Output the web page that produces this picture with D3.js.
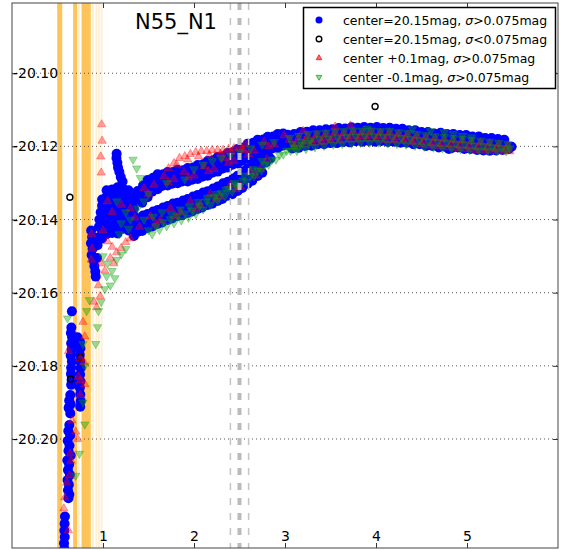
<!DOCTYPE html>
<html><head><meta charset="utf-8">
<script src="https://cdn.jsdelivr.net/npm/d3@7"></script>
<style>body{margin:0;background:#fff}svg{display:block}text{font-family:"DejaVu Sans",sans-serif}</style>
</head><body><svg id="c" width="566" height="550"></svg>
<script>
// ---------------- data ----------------
const title = "N55_N1";
const xTicks = [1, 2, 3, 4, 5];
const yTicks = [-20.10, -20.12, -20.14, -20.16, -20.18, -20.20];
const xDomain = [0, 6];
const yDomain = [-20.2298, -20.0808];
const legendLabels = [
  ["center=20.15mag, ", ">0.075mag"],
  ["center=20.15mag, ", "<0.075mag"],
  ["center +0.1mag, ", ">0.075mag"],
  ["center -0.1mag, ", ">0.075mag"]
];
const strongSpans = [[0.497,0.552],[0.672,0.716],[0.764,0.866]];
const faintSpans = [[0.724,0.745],[0.879,0.899],[0.918,0.935],[0.946,0.965],[0.976,0.995]];
const guideMain = [2.5];
const guideSide = [2.4, 2.6];

// center=20.15mag, sigma>0.075mag
const blueObs = [
 [0.658,-20.1651],
 [0.652,-20.1695],[0.647,-20.1710],[0.660,-20.1722],[0.650,-20.1738],[0.720,-20.1722],[0.725,-20.1738],[0.655,-20.1755],[0.645,-20.1772],[0.658,-20.1788],[0.650,-20.1805],[0.648,-20.1822],[0.655,-20.1838],[0.650,-20.1852],
 [0.748,-20.1735],[0.752,-20.1752],[0.745,-20.1770],[0.750,-20.1788],[0.755,-20.1806],[0.748,-20.1824],[0.752,-20.1842],[0.746,-20.1860],[0.750,-20.1878],[0.755,-20.1896],[0.750,-20.1912],
 [0.640,-20.1880],[0.628,-20.1895],[0.645,-20.1905],[0.622,-20.1915],[0.640,-20.1930],
 [0.630,-20.1962],[0.618,-20.1978],[0.640,-20.1990],[0.612,-20.2005],[0.632,-20.2018],[0.620,-20.2032],[0.645,-20.2045],[0.608,-20.2058],[0.628,-20.2070],[0.615,-20.2085],[0.636,-20.2098],[0.610,-20.2112],[0.625,-20.2125],[0.615,-20.2140],[0.630,-20.2152],[0.620,-20.2162],
 [0.582,-20.2212],[0.578,-20.2232],[0.575,-20.2250],[0.580,-20.2268],[0.572,-20.2285],[0.576,-20.2300],
 [0.870,-20.1430],[0.880,-20.1448],[0.868,-20.1465],[0.885,-20.1480],[0.875,-20.1497],[0.895,-20.1512],[0.905,-20.1527],[0.915,-20.1542],[0.920,-20.1556],[0.935,-20.1505],[0.940,-20.1470],[0.930,-20.1450],[0.955,-20.1420],[0.960,-20.1400],[0.975,-20.1380],
 [1.150,-20.1220],[1.148,-20.1232],[1.158,-20.1245],[1.165,-20.1258],[1.180,-20.1270],[1.195,-20.1284],[1.215,-20.1296],
 [0.99,-20.1345],[0.99,-20.1362],[0.99,-20.1380],[0.99,-20.1398],[0.99,-20.1416],[0.99,-20.1434],[0.99,-20.1452],
 [1.04,-20.1320],[1.04,-20.1337],[1.04,-20.1354],[1.04,-20.1371],[1.04,-20.1388],[1.04,-20.1405],[1.04,-20.1422],[1.04,-20.1440],
 [1.10,-20.1318],[1.10,-20.1335],[1.10,-20.1352],[1.10,-20.1369],[1.10,-20.1386],[1.10,-20.1403],[1.10,-20.1420],[1.10,-20.1437],
 [1.16,-20.1312],[1.16,-20.1330],[1.16,-20.1348],[1.16,-20.1366],[1.16,-20.1384],[1.16,-20.1402],[1.16,-20.1420],[1.16,-20.1438],
 [1.22,-20.1315],[1.22,-20.1333],[1.22,-20.1351],[1.22,-20.1369],[1.22,-20.1387],[1.22,-20.1405],[1.22,-20.1425],
 [1.28,-20.1320],[1.28,-20.1338],[1.28,-20.1356],[1.28,-20.1374],[1.28,-20.1392],[1.28,-20.1410],[1.28,-20.1430],
 [1.34,-20.1330],[1.34,-20.1350],[1.34,-20.1370],[1.34,-20.1390],[1.34,-20.1410],[1.34,-20.1428],[1.34,-20.1445],
 [1.38,-20.1322],[1.41,-20.1340],[1.43,-20.1354],[1.44,-20.1307],[1.47,-20.1320],[1.49,-20.1339],[1.49,-20.1292],[1.52,-20.1311],[1.54,-20.1324],
 [1.55,-20.1286],[1.58,-20.1298],[1.60,-20.1317],[1.60,-20.1276],[1.63,-20.1295],[1.65,-20.1308],[1.66,-20.1276],[1.69,-20.1288],[1.71,-20.1307],
 [1.71,-20.1270],[1.74,-20.1289],[1.76,-20.1302],[1.77,-20.1270],[1.80,-20.1282],[1.82,-20.1301],[1.82,-20.1264],[1.85,-20.1283],[1.87,-20.1296],
 [1.88,-20.1265],[1.91,-20.1277],[1.93,-20.1296],[1.93,-20.1259],[1.96,-20.1278],[1.98,-20.1291],[1.99,-20.1258],[2.02,-20.1270],[2.04,-20.1289],
 [2.04,-20.1251],[2.07,-20.1270],[2.09,-20.1283],[2.10,-20.1249],[2.13,-20.1261],[2.15,-20.1280],[2.15,-20.1240],[2.18,-20.1259],[2.20,-20.1272],
 [2.21,-20.1238],[2.24,-20.1250],[2.26,-20.1269],[2.26,-20.1229],[2.29,-20.1248],[2.31,-20.1261],[2.32,-20.1227],[2.35,-20.1239],[2.37,-20.1258],
 [2.37,-20.1218],[2.40,-20.1237],[2.42,-20.1250],[2.43,-20.1216],[2.46,-20.1228],[2.48,-20.1247],[2.48,-20.1207],[2.51,-20.1226],[2.53,-20.1239],
 [2.54,-20.1203],[2.57,-20.1215],[2.59,-20.1234],[2.59,-20.1193],[2.62,-20.1212],[2.64,-20.1225],[2.65,-20.1190],[2.68,-20.1202],[2.70,-20.1221],
 [2.70,-20.1182],[2.73,-20.1201],[2.75,-20.1214],[2.76,-20.1181],[2.79,-20.1193],[2.81,-20.1212],[2.81,-20.1174],[2.84,-20.1193],[2.86,-20.1206],
 [2.87,-20.1173],[2.90,-20.1185],[2.92,-20.1204],[2.92,-20.1166],[2.95,-20.1185],[2.97,-20.1198],[2.98,-20.1165],[3.01,-20.1177],[3.03,-20.1196],
 [1.33,-20.1400],[1.36,-20.1419],[1.38,-20.1434],[1.38,-20.1397],[1.41,-20.1411],[1.43,-20.1431],[1.44,-20.1389],[1.47,-20.1408],[1.49,-20.1423],
 [1.49,-20.1385],[1.52,-20.1399],[1.54,-20.1419],[1.55,-20.1378],[1.58,-20.1397],[1.60,-20.1412],[1.60,-20.1374],[1.63,-20.1388],[1.65,-20.1408],
 [1.66,-20.1367],[1.69,-20.1386],[1.71,-20.1401],[1.71,-20.1363],[1.74,-20.1377],[1.76,-20.1397],[1.77,-20.1356],[1.80,-20.1375],[1.82,-20.1390],
 [1.82,-20.1354],[1.85,-20.1368],[1.87,-20.1388],[1.88,-20.1348],[1.91,-20.1367],[1.93,-20.1382],[1.93,-20.1344],[1.96,-20.1358],[1.98,-20.1378],
 [1.99,-20.1337],[2.02,-20.1356],[2.04,-20.1371],[2.04,-20.1333],[2.07,-20.1347],[2.09,-20.1367],[2.10,-20.1326],[2.13,-20.1345],[2.15,-20.1360],
 [2.15,-20.1323],[2.18,-20.1337],[2.20,-20.1357],[2.21,-20.1315],[2.24,-20.1334],[2.26,-20.1349],[2.26,-20.1310],[2.29,-20.1324],[2.31,-20.1344],
 [2.32,-20.1301],[2.35,-20.1320],[2.37,-20.1335],[2.37,-20.1297],[2.40,-20.1311],[2.42,-20.1331],[2.43,-20.1288],[2.46,-20.1307],[2.48,-20.1322],
 [2.48,-20.1280],[2.51,-20.1294],[2.53,-20.1314],[2.54,-20.1268],[2.57,-20.1287],[2.59,-20.1302],[2.59,-20.1260],[2.62,-20.1274],[2.64,-20.1294],
 [2.65,-20.1247],[2.68,-20.1266],[2.70,-20.1281],[2.70,-20.1238],[2.73,-20.1252],[2.75,-20.1272],[2.76,-20.1232],[2.79,-20.1244],[2.81,-20.1222],[2.84,-20.1233],
 [3.03,-20.1168],[3.06,-20.1191],[3.08,-20.1206],[3.10,-20.1166],[3.13,-20.1184],[3.15,-20.1204],[3.17,-20.1161],[3.20,-20.1185],[3.22,-20.1199],
 [3.24,-20.1160],[3.27,-20.1178],[3.29,-20.1198],[3.31,-20.1156],[3.34,-20.1180],[3.36,-20.1194],[3.38,-20.1156],[3.41,-20.1174],[3.43,-20.1194],
 [3.45,-20.1153],[3.48,-20.1177],[3.50,-20.1191],[3.52,-20.1153],[3.55,-20.1171],[3.57,-20.1191],[3.59,-20.1150],[3.62,-20.1174],[3.64,-20.1188],
 [3.66,-20.1151],[3.69,-20.1169],[3.71,-20.1189],[3.73,-20.1148],[3.76,-20.1172],[3.78,-20.1186],[3.80,-20.1149],[3.83,-20.1167],[3.85,-20.1187],
 [3.87,-20.1147],[3.90,-20.1170],[3.92,-20.1185],[3.94,-20.1149],[3.97,-20.1167],[3.99,-20.1187],[4.01,-20.1147],[4.04,-20.1171],[4.06,-20.1185],
 [4.08,-20.1150],[4.11,-20.1168],[4.13,-20.1188],[4.15,-20.1149],[4.18,-20.1173],[4.20,-20.1187],[4.22,-20.1152],[4.25,-20.1170],[4.27,-20.1190],
 [4.29,-20.1152],[4.32,-20.1176],[4.34,-20.1190],[4.36,-20.1156],[4.39,-20.1174],[4.41,-20.1194],[4.43,-20.1156],[4.46,-20.1180],[4.48,-20.1194],
 [4.50,-20.1161],[4.53,-20.1179],[4.55,-20.1199],[4.57,-20.1161],[4.60,-20.1185],[4.62,-20.1199],[4.64,-20.1165],[4.67,-20.1183],[4.69,-20.1203],
 [4.71,-20.1163],[4.74,-20.1186],[4.76,-20.1201],[4.78,-20.1166],[4.81,-20.1185],[4.83,-20.1205],[4.80,-20.1207],[4.85,-20.1166],[4.88,-20.1188],[4.90,-20.1203],
 [4.92,-20.1169],[4.95,-20.1187],[4.97,-20.1207],[4.99,-20.1169],[5.02,-20.1192],[5.04,-20.1207],[5.06,-20.1173],[5.09,-20.1191],[5.11,-20.1210],
 [5.13,-20.1173],[5.16,-20.1196],[5.18,-20.1211],[5.20,-20.1177],[5.23,-20.1195],[5.25,-20.1212],[5.27,-20.1177],[5.30,-20.1198],[5.32,-20.1211],
 [5.34,-20.1180],[5.37,-20.1197],[5.39,-20.1210],[5.41,-20.1182],[5.44,-20.1199],[5.46,-20.1207],[5.49,-20.1201]
];
// center=20.15mag, sigma<0.075mag
const blackObs = [[0.636,-20.1339],[3.99,-20.1091],[0.753,-20.1777],[0.644,-20.1836]];
// center +0.1mag, sigma>0.075mag
const redObs = [
 [1.72,-20.1260],[1.78,-20.1246],[1.84,-20.1232],[1.90,-20.1227],[1.96,-20.1221],[2.02,-20.1216],[2.08,-20.1213],[2.14,-20.1213],[2.20,-20.1210],[2.26,-20.1210],[2.32,-20.1210],[2.38,-20.1207],[2.44,-20.1205],[2.50,-20.1199],[2.56,-20.1194],
 [1.81,-20.1250],[1.93,-20.1236],[2.05,-20.1228],[2.17,-20.1224],[2.29,-20.1220],[2.41,-20.1215],[2.53,-20.1208],
 [1.45,-20.1315],[1.56,-20.1305],[1.67,-20.1282],[1.78,-20.1290],[1.89,-20.1270],[2.00,-20.1280],[2.11,-20.1255],[2.22,-20.1262],[2.33,-20.1232],[2.44,-20.1240],[2.55,-20.1210],[2.66,-20.1212],[2.77,-20.1188],[2.88,-20.1195],[2.99,-20.1170],
 [1.50,-20.1330],[1.72,-20.1298],[1.94,-20.1285],[2.16,-20.1268],[2.38,-20.1245],[2.60,-20.1222],[2.82,-20.1200],
 [1.40,-20.1420],[1.52,-20.1392],[1.63,-20.1402],[1.74,-20.1370],[1.85,-20.1380],[1.96,-20.1350],[2.07,-20.1360],[2.18,-20.1330],[2.29,-20.1338],[2.40,-20.1305],[2.51,-20.1310],[2.62,-20.1268],[2.73,-20.1262],[2.80,-20.1235],
 [1.58,-20.1412],[1.80,-20.1392],[2.02,-20.1370],[2.24,-20.1345],[2.46,-20.1318],[2.68,-20.1280],
 [3.05,-20.1182],[3.15,-20.1176],[3.25,-20.1172],[3.35,-20.1168],[3.45,-20.1166],[3.55,-20.1162],[3.65,-20.1164],[3.75,-20.1160],[3.85,-20.1162],[3.95,-20.1160],[4.05,-20.1163],[4.15,-20.1162],[4.25,-20.1166],[4.35,-20.1168],[4.45,-20.1172],[4.55,-20.1175],[4.65,-20.1178],[4.75,-20.1180],[4.85,-20.1183],[4.95,-20.1184],[5.05,-20.1187],[5.15,-20.1189],[5.25,-20.1192],[5.35,-20.1195],[5.45,-20.1198],
 [3.10,-20.1200],[3.20,-20.1196],[3.30,-20.1190],[3.40,-20.1188],[3.50,-20.1184],[3.60,-20.1185],[3.70,-20.1181],[3.80,-20.1182],[3.90,-20.1180],[4.00,-20.1181],[4.10,-20.1183],[4.20,-20.1184],[4.30,-20.1186],[4.40,-20.1189],[4.50,-20.1194],[4.60,-20.1198],[4.70,-20.1200],[4.80,-20.1203],[4.90,-20.1205],[5.00,-20.1208],[5.10,-20.1210],[5.20,-20.1212],[5.30,-20.1213],[5.40,-20.1214],[5.47,-20.1214],
 [3.12,-20.1193],[3.22,-20.1186],[3.32,-20.1182],[3.42,-20.1178],[3.52,-20.1176],[3.62,-20.1174],[3.72,-20.1172],[3.82,-20.1173],[3.92,-20.1171],[4.02,-20.1173],[4.12,-20.1174],[4.22,-20.1176],[4.32,-20.1179],[4.42,-20.1182],[4.52,-20.1186],[4.62,-20.1190],[4.72,-20.1193],[4.82,-20.1195],[4.92,-20.1198],[5.02,-20.1200],[5.12,-20.1203],[5.22,-20.1205],[5.32,-20.1207],[5.42,-20.1209],
 [3.72,-20.1143],[3.55,-20.1146],[3.20,-20.1158],
 [0.985,-20.1140],[0.990,-20.1185],[0.975,-20.1228],[0.980,-20.1272],
 [1.00,-20.1430],[1.05,-20.1460],[1.10,-20.1475],[1.15,-20.1490],[1.08,-20.1505],[1.20,-20.1478],[1.25,-20.1462],[1.30,-20.1452],[0.98,-20.1520],[1.02,-20.1540],[1.12,-20.1520],[0.95,-20.1580],[0.97,-20.1610],[0.93,-20.1640],[0.90,-20.1625],[1.10,-20.1380],[1.20,-20.1360],[1.30,-20.1370],[1.35,-20.1395],[1.05,-20.1350],
 [0.78,-20.1680],[0.80,-20.1720],[0.62,-20.1760],[0.79,-20.1790],[0.73,-20.1830],[0.80,-20.1850],[0.66,-20.1950],[0.70,-20.1980],[0.72,-20.2000],[0.65,-20.2060],[0.60,-20.2120],[0.57,-20.2190],[0.62,-20.2250],[0.58,-20.2160],[0.75,-20.1780],[0.75,-20.1840],[0.75,-20.1880],[0.875,-20.1440],[0.88,-20.1480],[0.87,-20.1510],[0.64,-20.2040],[0.63,-20.2100]
];
// center -0.1mag, sigma>0.075mag
const greenObs = [
 [1.50,-20.1429],[1.58,-20.1418],[1.66,-20.1407],[1.74,-20.1399],[1.82,-20.1391],[1.90,-20.1383],[1.98,-20.1375],[2.06,-20.1362],[2.14,-20.1350],[2.22,-20.1338],[2.30,-20.1327],[2.38,-20.1316],[2.46,-20.1305],[2.54,-20.1293],[2.62,-20.1280],[2.70,-20.1266],[2.78,-20.1250],[2.86,-20.1236],[2.94,-20.1224],[3.02,-20.1212],[3.10,-20.1203],[3.18,-20.1196],[3.26,-20.1190],
 [1.54,-20.1440],[1.62,-20.1428],[1.70,-20.1418],[1.78,-20.1410],[1.86,-20.1402],[1.94,-20.1395],[2.02,-20.1385],[2.10,-20.1372],[2.18,-20.1360],[2.26,-20.1348],[2.34,-20.1336],[2.42,-20.1323],[2.50,-20.1310],[2.58,-20.1296],[2.66,-20.1282],[2.74,-20.1266],[2.82,-20.1250],[2.90,-20.1236],[2.98,-20.1222],[3.06,-20.1212],[3.14,-20.1205],
 [1.45,-20.1400],[1.65,-20.1380],[1.85,-20.1372],[2.05,-20.1352],[2.25,-20.1330],[2.45,-20.1300],[2.65,-20.1262],[2.75,-20.1240],[1.55,-20.1392],[1.75,-20.1385],[1.95,-20.1365],[2.15,-20.1340],[2.35,-20.1318],[2.55,-20.1280],
 [3.08,-20.1193],[3.18,-20.1188],[3.28,-20.1184],[3.38,-20.1180],[3.48,-20.1178],[3.58,-20.1176],[3.68,-20.1174],[3.78,-20.1173],[3.88,-20.1172],[3.98,-20.1173],[4.08,-20.1174],[4.18,-20.1175],[4.28,-20.1177],[4.38,-20.1180],[4.48,-20.1183],[4.58,-20.1186],[4.68,-20.1188],[4.78,-20.1189],[4.88,-20.1192],[4.98,-20.1194],[5.08,-20.1197],[5.18,-20.1199],[5.28,-20.1202],[5.38,-20.1204],[5.47,-20.1205],
 [3.13,-20.1212],[3.23,-20.1207],[3.33,-20.1202],[3.43,-20.1198],[3.53,-20.1195],[3.63,-20.1193],[3.73,-20.1192],[3.83,-20.1190],[3.93,-20.1190],[4.03,-20.1190],[4.13,-20.1192],[4.23,-20.1193],[4.33,-20.1195],[4.43,-20.1198],[4.53,-20.1201],[4.63,-20.1203],[4.73,-20.1205],[4.83,-20.1206],[4.93,-20.1208],[5.03,-20.1210],[5.13,-20.1211],[5.23,-20.1212],[5.33,-20.1213],[5.43,-20.1213],
 [3.05,-20.1176],[3.15,-20.1171],[3.25,-20.1166],[3.35,-20.1164],[3.45,-20.1162],[3.55,-20.1159],[3.65,-20.1158],[3.75,-20.1156],[3.85,-20.1157],[3.95,-20.1156],[4.05,-20.1158],[4.15,-20.1157],[4.25,-20.1161],[4.35,-20.1163],[4.45,-20.1166],[4.55,-20.1169],[4.65,-20.1172],[4.75,-20.1174],[4.85,-20.1177],[4.95,-20.1179],[5.05,-20.1182],[5.15,-20.1184],[5.25,-20.1187],[5.35,-20.1190],[5.45,-20.1193],
 [4.75,-20.1161],[4.85,-20.1166],[4.95,-20.1171],[4.40,-20.1153],[3.90,-20.1151],[5.05,-20.1175],[4.60,-20.1158],
 [2.00,-20.1262],[2.10,-20.1250],[2.20,-20.1240],[2.30,-20.1232],[2.40,-20.1225],[2.50,-20.1215],[2.62,-20.1205],[2.75,-20.1195],[2.88,-20.1188],[1.90,-20.1290],[1.70,-20.1300],
 [1.33,-20.1236],[1.37,-20.1260],[1.41,-20.1286],[1.15,-20.1350],[1.25,-20.1380],[1.30,-20.1400],[1.38,-20.1370],[1.20,-20.1410],[1.45,-20.1350],[1.50,-20.1330],[1.28,-20.1425],[1.18,-20.1440],
 [1.00,-20.1500],[1.05,-20.1520],[1.10,-20.1540],[1.13,-20.1560],[1.08,-20.1580],[1.02,-20.1590],[0.98,-20.1625],[0.95,-20.1650],[1.15,-20.1510],[1.20,-20.1495],[1.25,-20.1480],[0.94,-20.1694],[0.92,-20.1740],[1.04,-20.1555],
 [0.61,-20.1670],[0.78,-20.1740],[0.80,-20.1800],[0.78,-20.1900],[0.80,-20.1960],[0.74,-20.2040],[0.70,-20.2100],[0.82,-20.1650],[0.85,-20.1620]
];

// ---------------- drawing ----------------
const svg = d3.select("#c");
const L = 12, R = 558, T = 3, B = 548;
const x = d3.scaleLinear().domain(xDomain).range([L, R]);
const y = d3.scaleLinear().domain(yDomain).range([B, T]);

svg.append("defs").append("clipPath").attr("id","clip")
  .append("rect").attr("x",L).attr("y",T).attr("width",R-L).attr("height",B-T);
const plot = svg.append("g").attr("clip-path","url(#clip)");

plot.selectAll("rect.s").data(strongSpans).join("rect").attr("class","s")
  .attr("x",d=>x(d[0])).attr("width",d=>x(d[1])-x(d[0])).attr("y",T).attr("height",B-T)
  .attr("fill","#ffa500").attr("fill-opacity",0.65);
plot.selectAll("rect.f").data(faintSpans).join("rect").attr("class","f")
  .attr("x",d=>x(d[0])).attr("width",d=>x(d[1])-x(d[0])).attr("y",T).attr("height",B-T)
  .attr("fill","#ffa500").attr("fill-opacity",0.18);

plot.selectAll("line.g").data(yTicks).join("line").attr("class","g")
  .attr("x1",L).attr("x2",R).attr("y1",d=>y(d)).attr("y2",d=>y(d))
  .attr("stroke","#555").attr("stroke-width",1).attr("stroke-dasharray","1,3");

plot.selectAll("circle.b").data(blueObs).join("circle").attr("class","b")
  .attr("cx",d=>x(d[0])).attr("cy",d=>y(d[1])).attr("r",5).attr("fill","#0000ff");
plot.selectAll("circle.k").data(blackObs).join("circle").attr("class","k")
  .attr("cx",d=>x(d[0])).attr("cy",d=>y(d[1])).attr("r",3).attr("fill","none")
  .attr("stroke","#000").attr("stroke-width",1.4);
const tri = d3.symbol(d3.symbolTriangle, 30);
plot.selectAll("path.r").data(redObs).join("path").attr("class","r")
  .attr("d",tri).attr("transform",d=>`translate(${x(d[0])},${y(d[1])})`)
  .attr("fill","#ff0000").attr("fill-opacity",0.36).attr("stroke","#ff0000").attr("stroke-opacity",0.42).attr("stroke-width",0.8);
plot.selectAll("path.gr").data(greenObs).join("path").attr("class","gr")
  .attr("d",tri).attr("transform",d=>`translate(${x(d[0])},${y(d[1])}) rotate(180)`)
  .attr("fill","#00a000").attr("fill-opacity",0.38).attr("stroke","#00a000").attr("stroke-opacity",0.42).attr("stroke-width",0.8);

plot.selectAll("line.gm").data(guideMain).join("line").attr("class","gm")
  .attr("x1",d=>x(d)).attr("x2",d=>x(d)).attr("y1",T).attr("y2",B)
  .attr("stroke","#bbbbbb").attr("stroke-width",4).attr("stroke-dasharray","7,8");
plot.selectAll("line.gs").data(guideSide).join("line").attr("class","gs")
  .attr("x1",d=>x(d)).attr("x2",d=>x(d)).attr("y1",T).attr("y2",B)
  .attr("stroke","#c4c4c4").attr("stroke-width",1.5).attr("stroke-dasharray","7,8");

const fmt = d => d.toFixed(2);
const ax = svg.append("g");
ax.append("g").attr("transform",`translate(${L},0)`)
  .call(d3.axisRight(y).tickValues(yTicks).tickSize(5).tickPadding(-4).tickFormat(fmt));
ax.append("g").attr("transform",`translate(${R},0)`)
  .call(d3.axisLeft(y).tickValues(yTicks).tickSize(5).tickFormat(""));
ax.append("g").attr("transform",`translate(0,${B})`)
  .call(d3.axisTop(x).tickValues(xTicks).tickSize(5).tickPadding(2).tickFormat(d3.format("d")));
ax.append("g").attr("transform",`translate(0,${T})`)
  .call(d3.axisBottom(x).tickValues(xTicks).tickSize(5).tickFormat(""));
ax.selectAll(".domain").remove();
ax.selectAll(".tick line").attr("stroke","#333");
ax.selectAll(".tick text").attr("font-family","DejaVu Sans").attr("font-size",14).attr("fill","#000");
svg.append("rect").attr("x",L).attr("y",T).attr("width",R-L).attr("height",B-T)
  .attr("fill","none").attr("stroke","#444").attr("stroke-width",1);

svg.append("text").attr("x",176).attr("y",29).attr("text-anchor","middle")
  .attr("font-size",21).text(title);

const lg = svg.append("g");
lg.append("rect").attr("x",303.5).attr("y",7.5).attr("width",252).attr("height",81)
  .attr("fill","#fff").attr("stroke","#000").attr("stroke-width",1.5);
const rows = [20, 39, 58, 77];
lg.append("circle").attr("cx",319).attr("cy",rows[0]).attr("r",3.5).attr("fill","#0000ff");
lg.append("circle").attr("cx",319).attr("cy",rows[1]).attr("r",2.8).attr("fill","none").attr("stroke","#000").attr("stroke-width",1.4);
lg.append("path").attr("d",d3.symbol(d3.symbolTriangle,14)).attr("transform",`translate(319,${rows[2]})`)
  .attr("fill","#ff0000").attr("fill-opacity",0.6).attr("stroke","#ff0000").attr("stroke-opacity",0.7);
lg.append("path").attr("d",d3.symbol(d3.symbolTriangle,14)).attr("transform",`translate(319,${rows[3]}) rotate(180)`)
  .attr("fill","#00a000").attr("fill-opacity",0.4).attr("stroke","#00a000").attr("stroke-opacity",0.7);
legendLabels.forEach((lab,i)=>{
  const t = lg.append("text").attr("x",343).attr("y",rows[i]+4.5).attr("font-size",12.5);
  t.append("tspan").text(lab[0]);
  t.append("tspan").attr("font-style","italic").text("σ");
  t.append("tspan").text(lab[1]);
});
</script></body></html>
